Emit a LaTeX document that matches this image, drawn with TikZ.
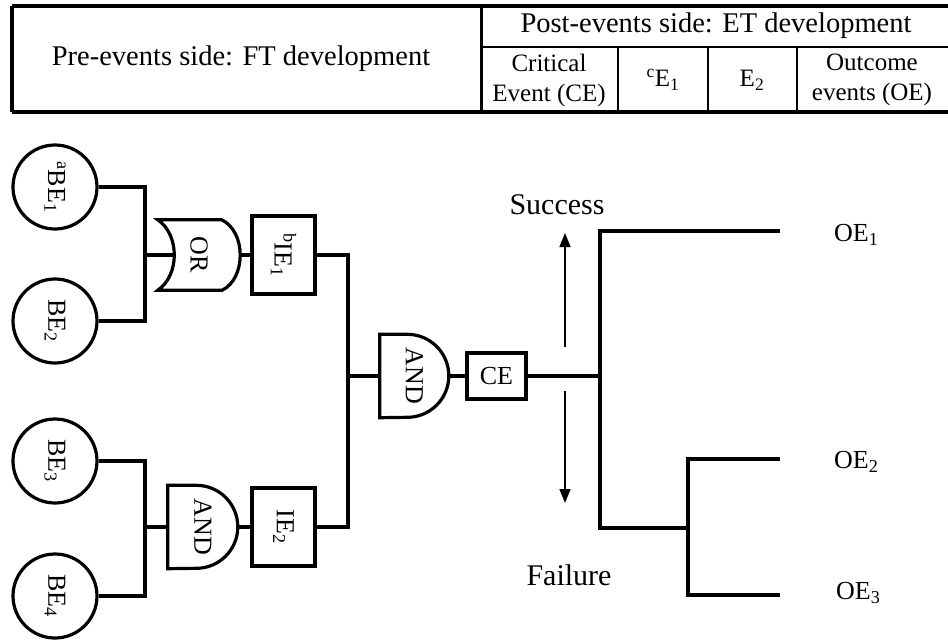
\documentclass[tikz,border=0pt]{standalone}
\usepackage{fontspec}
\setmainfont{Liberation Serif}
\usetikzlibrary{positioning, arrows.meta}

% rotated labels, read top to bottom
\newcommand{\vtext}[1]{\rotatebox{-90}{#1}}

\begin{document}
\begin{tikzpicture}[x=1pt, y=-1pt,
  every node/.style={font=\fontsize{26}{30}\selectfont, inner sep=0pt},
  wire/.style={line width=3.2pt},
  basic/.style={draw, circle, line width=3.2pt, minimum size=84pt},
  event/.style={draw, rectangle, line width=3.2pt},
  gatebox/.style={minimum width=70pt, minimum height=83pt},
  head/.style={font=\fontsize{28.5}{32}\selectfont},
  cell/.style={font=\fontsize{25}{30}\selectfont, align=center},
  branch/.style={line width=1.5pt, -{Triangle[length=14pt, width=11pt]}}]
  \useasboundingbox (0,0) rectangle (948,641);

  % Table header
  \draw[line width=3.8pt] (12,6) -- (948,6);
  \draw[line width=3.8pt] (12,112) -- (948,112);
  \draw[line width=3.4pt] (12,6) -- (12,112);
  \draw[line width=3pt] (481,6) -- (481,112);
  \draw[line width=2.6pt] (481,47) -- (948,47);
  \foreach \xx in {618,708,797} {
    \draw[line width=2.6pt] (\xx,47) -- (\xx,112);
  }
  \node[head] (pre) at (241,59) {Pre-events side: FT development};
  \node[head] (post) at (716,26) {Post-events side: ET development};
  \node[cell] (hce) at (549,80) {Critical\\Event (CE)};
  \node[cell] (he1) at (663,80) {\textsuperscript{c}E\textsubscript{1}};
  \node[cell] (he2) at (752,80) {E\textsubscript{2}};
  \node[cell] (hoe) at (872,80) {Outcome\\events (OE)};

  % Basic events
  \node[basic] (be1) at (55,187) {\vtext{\textsuperscript{a}BE\textsubscript{1}}};
  \node[basic] (be2) at (55,321) {\vtext{BE\textsubscript{2}}};
  \node[basic] (be3) at (55,461) {\vtext{BE\textsubscript{3}}};
  \node[basic] (be4) at (55,596) {\vtext{BE\textsubscript{4}}};

  % OR gate
  \node[gatebox, minimum width=82pt, minimum height=70pt] (orG) at (199,255) {\vtext{OR}};
  \draw[wire] (orG.north west) -- ++(64,0)
    .. controls +(12,6) and +(0,-15) .. (orG.east)
    .. controls +(0,15) and +(12,-6) .. ([xshift=-18pt]orG.south east)
    -- (orG.south west)
    .. controls +(22,-15) and +(22,15) .. (orG.north west) -- cycle;

  % AND gates
  \node[gatebox] (andL) at (203,527) {\vtext{AND}};
  \draw[wire] (andL.north west) -- ++(28.5,0)
    arc[start angle=90, end angle=-90, radius=41.5pt] -- (andL.south west) -- cycle;
  \node[gatebox, minimum width=69pt] (andT) at (414.5,376) {\vtext{AND}};
  \draw[wire] (andT.north west) -- ++(27.5,0)
    arc[start angle=90, end angle=-90, radius=41.5pt] -- (andT.south west) -- cycle;

  % Intermediate and critical events
  \node[event, minimum width=63pt, minimum height=78pt] (ie1) at (283.5,255) {\vtext{\textsuperscript{b}IE\textsubscript{1}}};
  \node[event, minimum width=63pt, minimum height=78pt] (ie2) at (283.5,527) {\vtext{IE\textsubscript{2}}};
  \node[event, minimum width=59pt, minimum height=46pt] (ce) at (496.5,376) {CE};

  % Fault tree wiring
  \coordinate (j1) at (145,255);
  \coordinate (j2) at (145,527);
  \coordinate (j3) at (348,376);
  \draw[wire] (be1.east) -| (j1) |- (be2.east);
  \draw[wire] (j1) -- ([xshift=16.5pt]orG.west);
  \draw[wire] (orG.east) -- (ie1.west);
  \draw[wire] (be3.east) -| (j2) |- (be4.east);
  \draw[wire] (j2) -- (andL.west);
  \draw[wire] (andL.east) -- (ie2.west);
  \draw[wire] (ie1.east) -| (j3) |- (ie2.east);
  \draw[wire] (j3) -- (andT.west);
  \draw[wire] (andT.east) -- (ce.west);

  % Event tree
  \coordinate (et) at (600,376);
  \coordinate (f1) at (600,528);
  \coordinate (f2) at (688,528);
  \coordinate (e1) at (780,231);
  \coordinate (e2) at (780,459);
  \coordinate (e3) at (780,595);
  \draw[wire] (ce.east) -- (et);
  \draw[wire] (e1) -| (f1) -- (f2);
  \draw[wire] (e2) -| (f2) |- (e3);
  \node[anchor=west] (oe1) at (834,235) {OE\textsubscript{1}};
  \node[anchor=west] (oe2) at (834,462) {OE\textsubscript{2}};
  \node[anchor=west] (oe3) at (836,593) {OE\textsubscript{3}};

  % Success / failure
  \coordinate (sa) at (565,347);
  \coordinate (sb) at (565,233);
  \coordinate (fa) at (565,391);
  \coordinate (fb) at (565,503);
  \draw[branch] (sa) -- (sb);
  \draw[branch] (fa) -- (fb);
  \node[font=\fontsize{30}{34}\selectfont] (succ) at (557,205) {Success};
  \node[font=\fontsize{30}{34}\selectfont] (fail) at (569,575) {Failure};
\end{tikzpicture}
\end{document}
